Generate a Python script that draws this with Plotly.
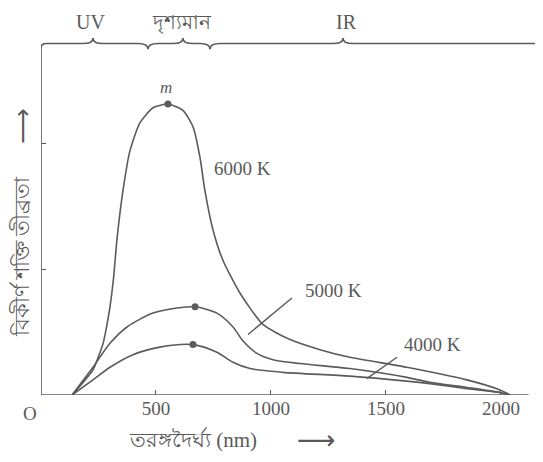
import plotly.graph_objects as go

# ---- data ----
wl_6000 = [135, 183, 226, 270, 287, 300, 315, 330, 357, 387, 430, 487, 552, 617, 661, 691, 713, 748,
           791, 865, 965, 1083, 1213, 1343, 1591, 1852, 1996, 2040]
I_6000 = [0, 0.10, 0.20, 0.41, 0.56, 0.70, 0.92, 1.23, 1.63, 1.94, 2.16, 2.28, 2.31, 2.26, 2.13, 1.89, 1.62, 1.31,
          1.07, 0.81, 0.56, 0.44, 0.36, 0.30, 0.22, 0.12, 0.04, 0.0]

wl_5000 = [135, 226, 300, 374, 487, 591, 670, 765, 835, 878, 939, 1009, 1126, 1343, 1591, 1691, 1852, 1996, 2040]
I_5000 = [0, 0.22, 0.41, 0.54, 0.65, 0.69, 0.70, 0.65, 0.54, 0.43, 0.33, 0.28, 0.25, 0.21, 0.14, 0.10, 0.06, 0.02, 0.0]

wl_4000 = [135, 226, 300, 400, 517, 661, 765, 835, 909, 1052, 1343, 1591, 1691, 1852, 1996, 2040]
I_4000 = [0, 0.12, 0.22, 0.32, 0.38, 0.40, 0.34, 0.26, 0.21, 0.18, 0.15, 0.11, 0.09, 0.05, 0.02, 0.0]

peak_wl = [552, 670, 661]
peak_I = [2.31, 0.70, 0.40]

curve_labels = ["6000 K", "5000 K", "4000 K"]
x_ticks = [500, 1000, 1500, 2000]
x_ticktext = ["500", "1000", "1500", "2000"]
y_ticks = [1, 2]

region_names = ["UV", "দৃশ্যমান", "IR"]
region_tips = [226, 617, 1313]
region_bounds = [465, 735]

x_title = "তরঙ্গদৈর্ঘ্য (nm)"
y_title = "বিকীর্ণ শক্তি তীব্রতা"
ARROW = "⟶"

# ---- style ----
GRAY = "#5b5b5b"
TXT = "#5a5a5a"
SERIF = "Liberation Serif, Noto Sans, serif"
X_MAX = 2183
Y_MAX = 2.85
Y_TOP = 2.79


def px(x):  # data x -> paper x
    return x / X_MAX


def py(y):  # data y -> paper y
    return y / Y_MAX


fig = go.Figure()
for wl, I, sm in [(wl_6000, I_6000, 0.6), (wl_5000, I_5000, 0.8), (wl_4000, I_4000, 0.8)]:
    fig.add_trace(go.Scatter(x=wl, y=I, mode="lines",
                             line=dict(color=GRAY, width=1.6, shape="spline", smoothing=sm),
                             hoverinfo="skip", showlegend=False, cliponaxis=False))
fig.add_trace(go.Scatter(x=peak_wl, y=peak_I, mode="markers",
                         marker=dict(color=GRAY, size=7), showlegend=False, cliponaxis=False))

# top bracket path with braces
h, d = 0.045, 22
p = f"M 0,0 L 0,{Y_TOP-0.035} Q 0,{Y_TOP} 25,{Y_TOP} "
pts = sorted([(t, 1) for t in region_tips] + [(b, -1) for b in region_bounds])
for xpos, sgn in pts:
    p += f"L {xpos-2*d},{Y_TOP} Q {xpos},{Y_TOP} {xpos},{Y_TOP+sgn*h} Q {xpos},{Y_TOP} {xpos+2*d},{Y_TOP} "
p += f"L {X_MAX},{Y_TOP}"
shapes = [
    dict(type="path", path=p, xref="x", yref="y", line=dict(color=GRAY, width=1.6)),
    dict(type="line", x0=0, x1=2120, y0=0, y1=0, xref="x", yref="y", line=dict(color=GRAY, width=1.6)),
    # label pointers
    dict(type="line", x0=1091, y0=0.77, x1=900, y1=0.48, xref="x", yref="y", line=dict(color=GRAY, width=1.4)),
    dict(type="line", x0=1548, y0=0.30, x1=1417, y1=0.13, xref="x", yref="y", line=dict(color=GRAY, width=1.4)),
]

C = dict(xanchor="center", yanchor="middle", showarrow=False)
ann = []
for name, xpos in zip(region_names, [215, 613, 1330]):
    ann.append(dict(x=px(xpos), y=py(2.96), xref="paper", yref="paper", text=name,
                    font=dict(family=SERIF, size=20, color=TXT), **C))
ann.append(dict(x=543, y=2.44, xref="x", yref="y", text="<i>m</i>",
                font=dict(family=SERIF, size=17, color=TXT), **C))
for lab, (xx, yy) in zip(curve_labels, [(878, 1.80), (1270, 0.83), (1704, 0.40)]):
    ann.append(dict(x=xx, y=yy, xref="x", yref="y", text=lab,
                    font=dict(family=SERIF, size=19, color=TXT), **C))
ann.append(dict(x=px(-48), y=py(-0.145), xref="paper", yref="paper", text="O",
                font=dict(family=SERIF, size=19, color=TXT), **C))
# x-axis title + arrow
ann.append(dict(x=px(661), y=py(-0.357), xref="paper", yref="paper", text=x_title,
                font=dict(family=SERIF, size=21, color=TXT), **C))
ann.append(dict(x=px(1200), y=py(-0.357), xref="paper", yref="paper", text=ARROW,
                font=dict(family="DejaVu Sans", size=27, color=TXT), **C))
# y-axis title + arrow
ann.append(dict(x=px(-87), y=py(1.10), xref="paper", yref="paper", text=y_title,
                textangle=-90, font=dict(family=SERIF, size=21, color=TXT), **C))
ann.append(dict(x=px(-80), y=py(2.13), xref="paper", yref="paper", text=ARROW,
                textangle=-90, font=dict(family="DejaVu Sans", size=25, color=TXT), **C))

# page body has an 8px default margin: shrink the figure so it fits the 543x462 window
fig.update_layout(
    width=535, height=454,
    margin=dict(l=33, r=0, t=28, b=67),
    paper_bgcolor="white", plot_bgcolor="white",
    shapes=shapes, annotations=ann,
    xaxis=dict(range=[0, X_MAX], showgrid=False, zeroline=False, showline=False,
               tickvals=x_ticks, ticktext=x_ticktext, ticks="inside", ticklen=5, tickwidth=1.3,
               tickcolor=GRAY, tickfont=dict(family=SERIF, size=19, color=TXT)),
    yaxis=dict(range=[0, Y_MAX], showgrid=False, zeroline=False, showline=False,
               tickvals=y_ticks, ticks="inside", ticklen=5, tickwidth=1.3, tickcolor=GRAY,
               showticklabels=False),
)
fig.write_html("out.html")
